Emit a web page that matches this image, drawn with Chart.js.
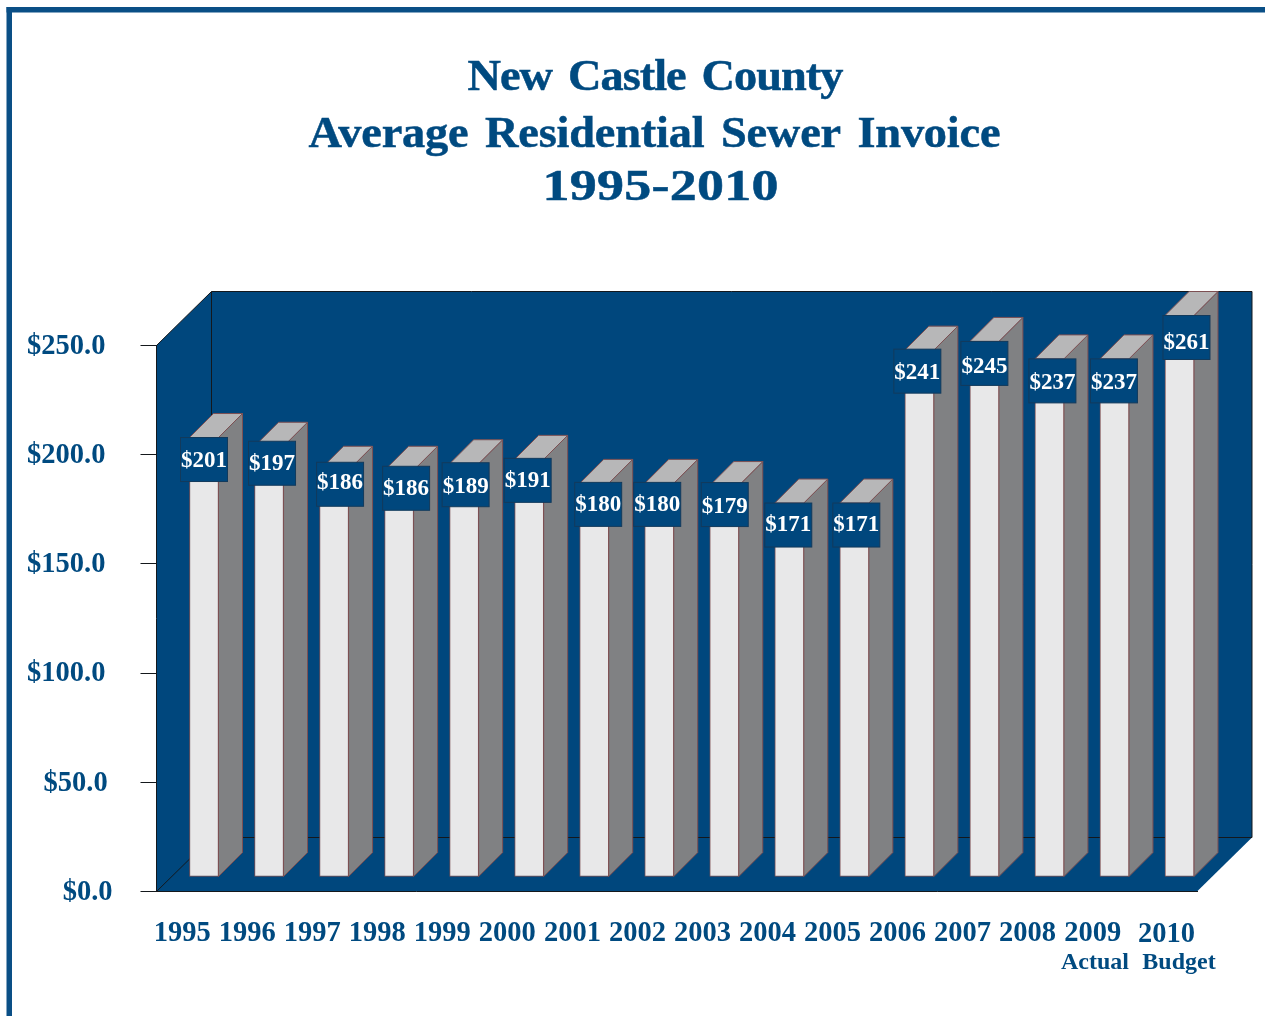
<!DOCTYPE html>
<html>
<head>
<meta charset="utf-8">
<title>New Castle County Average Residential Sewer Invoice</title>
<style>
  html, body { margin: 0; padding: 0; background: #fff; }
  canvas { display: block; }
</style>
<script src="https://cdn.jsdelivr.net/npm/chart.js@4/dist/chart.umd.min.js"></script>
</head>
<body>
<canvas id="invoice" width="1265" height="1016"></canvas>
<script>
// Chart content
const titleLines = ["New Castle County", "Average Residential Sewer Invoice", "1995-2010"];
const years = ["1995","1996","1997","1998","1999","2000","2001","2002","2003","2004","2005","2006","2007","2008","2009","2010"];
const invoices = [201,197,186,186,189,191,180,180,179,171,171,241,245,237,237,261];
const yTickLabels = ["$0.0","$50.0","$100.0","$150.0","$200.0","$250.0"];
const budgetNotes = ["Actual","Budget"];

// Hand placement of each value flag relative to the top of its column,
// and of the amount inside the flag
const flagShiftX = [0,3,6,7,1.5,-1.5,4,-2,0.5,-1,2,-2,0,3,-0.5,7];
const flagShiftY = [0,-5,-8,-4,-1,-1,-1,-1,-3,0,0,-1,0,0,0,0];
const flagTextLift = [2,2,4,2,1,2,2,2,1,3,3,1,-1,1,1,-2];

// Box geometry, in pixels
const INK = "#004a80";
const WALL = "#00477d";
const LINE = "#14181c";
const EDGE = "#7d5053";
const SERIF = '"Liberation Serif", "Times New Roman", serif';
const AREA = { left: 156.5, right: 1197, top: 345.5, bottom: 891.5 };
const WALL_DX = 55, WALL_DY = 54;       // receding box walls
const COLUMN_DEPTH = 24;                // receding column sides
const COLUMN_LIFT = 15;                 // columns stand this far up the floor
const COLUMN_SHIFT = 47.5;              // first column centre from the box's left edge
const SLOT = (AREA.right - AREA.left) / years.length;
const PX_PER_DOLLAR = (AREA.bottom - AREA.top) / 250;
const yBarsMin = -COLUMN_LIFT / PX_PER_DOLLAR;
const xBarsMin = -COLUMN_SHIFT / SLOT;

function polygon(ctx, pts, fill, stroke) {
  ctx.beginPath();
  pts.forEach((p, i) => i ? ctx.lineTo(p[0], p[1]) : ctx.moveTo(p[0], p[1]));
  ctx.closePath();
  if (fill) { ctx.fillStyle = fill; ctx.fill(); }
  if (stroke) { ctx.strokeStyle = stroke; ctx.lineWidth = 1; ctx.stroke(); }
}

function segment(ctx, x1, y1, x2, y2) {
  ctx.beginPath();
  ctx.moveTo(x1, y1);
  ctx.lineTo(x2, y2);
  ctx.stroke();
}

// Heading line set wide: stretched glyphs, open word gaps, the rest taken up by letter spacing
function headingLine(ctx, text, centre, baseline, width, stretch) {
  ctx.save();
  ctx.letterSpacing = "0px";
  ctx.wordSpacing = "5px";
  const natural = ctx.measureText(text).width * stretch;
  const gap = (width - natural) / (text.length - 1) / stretch;
  ctx.letterSpacing = gap + "px";
  ctx.textAlign = "left";
  ctx.translate(centre - width / 2, baseline);
  ctx.scale(stretch, 1);
  ctx.fillText(text, 0, 0);
  ctx.strokeStyle = INK;
  ctx.lineWidth = 0.5;
  ctx.strokeText(text, 0, 0);
  ctx.restore();
}

const pagePlugin = {
  id: "page",
  beforeDraw(chart) {
    const { ctx, chartArea: a } = chart;
    const back = { left: a.left + WALL_DX, right: a.right + WALL_DX, top: a.top - WALL_DY, bottom: a.bottom - WALL_DY };
    ctx.save();

    // Page frame, open towards the right and the bottom
    ctx.fillStyle = "#0a4f86";
    ctx.fillRect(6.5, 7, 1258.5, 5.5);
    ctx.fillRect(6.5, 7, 5.5, 1009);

    // Heading
    ctx.fillStyle = INK;
    ctx.textBaseline = "alphabetic";
    ctx.font = "bold 45px " + SERIF;
    headingLine(ctx, titleLines[0], 655.5, 89.5, 376, 1.03);
    headingLine(ctx, titleLines[1], 654.5, 146.5, 692, 1.03);
    headingLine(ctx, titleLines[2], 660.5, 199.5, 236, 1.2);

    // Box: side wall, back wall and floor share one colour
    polygon(ctx, [
      [a.left, a.top], [back.left, back.top], [back.right, back.top],
      [back.right, back.bottom], [a.right, a.bottom], [a.left, a.bottom]
    ], WALL);
    ctx.strokeStyle = LINE;
    ctx.lineWidth = 1;
    segment(ctx, a.left, a.top, back.left, back.top);
    segment(ctx, back.left, back.top, back.right, back.top);
    segment(ctx, back.right, back.top, back.right, back.bottom);
    segment(ctx, back.left, back.top, back.left, back.bottom);
    segment(ctx, back.left, back.bottom, back.right, back.bottom);
    segment(ctx, a.left, a.bottom, back.left, back.bottom);
    ctx.restore();
  },
  beforeDatasetDraw(chart, args) {
    const { ctx, chartArea: a } = chart;
    const ceiling = a.top - WALL_DY + COLUMN_DEPTH;
    ctx.save();
    ctx.lineJoin = "round";
    chart.getDatasetMeta(args.index).data.forEach(bar => {
      // Tall columns stop at the roof of the box
      bar.y = Math.max(bar.y, ceiling);
      const l = bar.x - bar.width / 2, r = bar.x + bar.width / 2;
      const d = COLUMN_DEPTH;
      polygon(ctx, [[r, bar.y], [r + d, bar.y - d], [r + d, bar.base - d], [r, bar.base]], "#808183", EDGE);
      polygon(ctx, [[l, bar.y], [l + d, bar.y - d], [r + d, bar.y - d], [r, bar.y]], "#b7b7b8", EDGE);
    });
    ctx.restore();
  },
  afterDatasetsDraw(chart) {
    const { ctx } = chart;
    ctx.save();
    ctx.font = "bold 23px " + SERIF;
    ctx.textBaseline = "alphabetic";
    ctx.textAlign = "center";
    chart.getDatasetMeta(0).data.forEach((bar, i) => {
      const cx = bar.x + flagShiftX[i], top = bar.y + flagShiftY[i];
      ctx.fillStyle = WALL;
      ctx.strokeStyle = "#123a5c";
      ctx.lineWidth = 1;
      ctx.fillRect(cx - 23.5, top, 47, 44);
      ctx.strokeRect(cx - 23.5, top, 47, 44);
      ctx.fillStyle = "#ffffff";
      ctx.fillText("$" + invoices[i], cx, top + 31 - flagTextLift[i]);
    });

    // Last year label and the notes under the final two years
    const xScale = chart.scales.x;
    ctx.fillStyle = INK;
    ctx.font = "bold 28.5px " + SERIF;
    ctx.fillText(years[15], xScale.getPixelForTick(15) + 2, 941.5);
    ctx.font = "bold 24px " + SERIF;
    ctx.fillText(budgetNotes[0], xScale.getPixelForTick(14) - 4.5, 969);
    ctx.fillText(budgetNotes[1], xScale.getPixelForTick(15) + 14.5, 969);
    ctx.restore();
  }
};

// Trailing blanks keep the shorter amounts a little nearer the axis
const yTickTrail = ["", "\u200A\u200A", " ", " ", " ", " "];

new Chart(document.getElementById("invoice"), {
  type: "bar",
  plugins: [pagePlugin],
  data: {
    labels: years,
    datasets: [{
      label: "Average residential sewer invoice",
      data: years.map((_, i) => ({ x: i, y: invoices[i] })),
      xAxisID: "xBars",
      yAxisID: "yBars",
      backgroundColor: "#e8e8e9",
      borderColor: EDGE,
      borderWidth: 1,
      borderSkipped: false,
      barThickness: 29,
      clip: false
    }]
  },
  options: {
    responsive: false,
    animation: false,
    layout: { padding: { top: AREA.top, right: 1265 - AREA.right, left: 0, bottom: 0 } },
    plugins: { legend: { display: false }, title: { display: false }, tooltip: { enabled: false } },
    scales: {
      x: {
        type: "category",
        offset: true,
        afterFit(scale) { scale.height = 1016 - AREA.bottom; },
        grid: { display: false, drawTicks: false },
        border: { display: true, color: LINE, width: 1 },
        ticks: {
          autoSkip: false,
          maxRotation: 0,
          minRotation: 0,
          padding: 25.5,
          labelOffset: -6.8,
          color: INK,
          font: { family: SERIF, weight: "bold", size: 28.5 },
          callback(value, index) { return index === years.length - 1 ? "" : years[index]; }
        }
      },
      y: {
        type: "linear",
        min: 0,
        max: 250,
        afterFit(scale) { scale.width = AREA.left; },
        grid: { drawOnChartArea: false, drawTicks: true, tickLength: 16, tickColor: LINE, color: LINE },
        border: { display: true, color: LINE, width: 1 },
        ticks: {
          stepSize: 50,
          padding: 28,
          labelOffset: 1,
          color: INK,
          font: { family: SERIF, weight: "bold", size: 28.5 },
          callback(value, index) { return yTickLabels[index] + yTickTrail[index]; }
        }
      },
      xBars: { type: "linear", display: false, offset: false, min: xBarsMin, max: xBarsMin + years.length },
      yBars: { type: "linear", display: false, min: yBarsMin, max: yBarsMin + 250 }
    }
  }
});
</script>
</body>
</html>
